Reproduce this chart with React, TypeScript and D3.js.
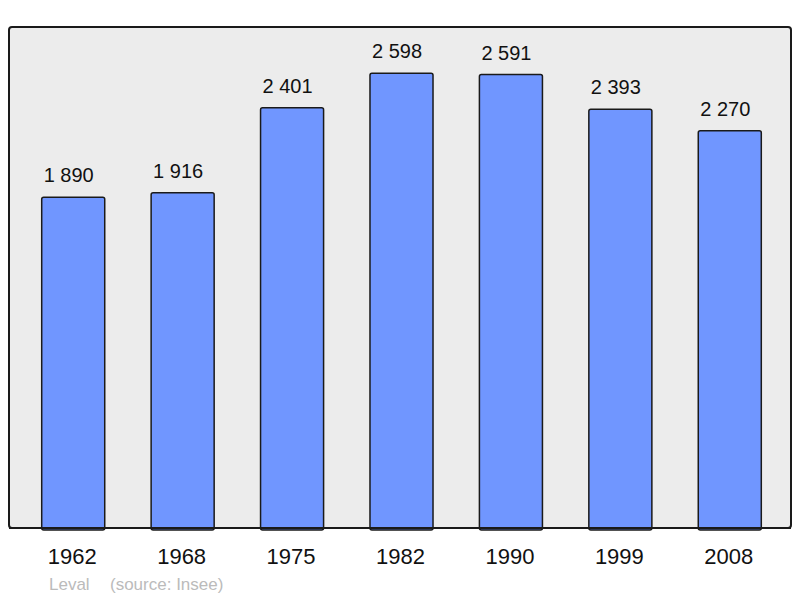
import React, { useEffect, useRef } from "react";
import * as d3 from "d3";

const years = ["1962", "1968", "1975", "1982", "1990", "1999", "2008"];
const population = [1890, 1916, 2401, 2598, 2591, 2393, 2270];
const commune = "Leval";
const source = "(source: Insee)";

const W = 800;
const H = 598;

const fmt = (v: number) => d3.format(",")(v).replace(",", " ");

const PopChart: React.FC = () => {
  const svgRef = useRef<SVGSVGElement>(null);

  useEffect(() => {
    if (!svgRef.current) return;
    const svg = d3.select(svgRef.current);
    svg.selectAll("*").remove();

    const frame = { left: 9, right: 791, top: 27, bottom: 528 };

    // frame background
    svg
      .append("rect")
      .attr("x", frame.left)
      .attr("y", frame.top)
      .attr("width", frame.right - frame.left)
      .attr("height", frame.bottom - frame.top)
      .attr("rx", 3)
      .attr("fill", "#ececec")
      .attr("stroke", "#1a1a1a")
      .attr("stroke-width", 2);

    const x = d3
      .scaleBand()
      .domain(years)
      .range([41.7, 761.3])
      .paddingInner(0.424)
      .paddingOuter(0);

    const y = d3.scaleLinear().domain([0, 2863]).range([frame.bottom, frame.top]);

    const data = years.map((yr, i) => ({ yr, v: population[i] }));

    // bars
    svg
      .selectAll("rect.bar")
      .data(data)
      .enter()
      .append("rect")
      .attr("class", "bar")
      .attr("x", d => x(d.yr)!)
      .attr("y", d => y(d.v))
      .attr("width", x.bandwidth())
      .attr("height", d => frame.bottom - y(d.v) + 2)
      .attr("rx", 2)
      .attr("fill", "#7096ff")
      .attr("stroke", "#1a1a1a")
      .attr("stroke-width", 1.5);

    // redraw bottom line over bars
    svg
      .append("line")
      .attr("x1", frame.left)
      .attr("x2", frame.right)
      .attr("y1", frame.bottom)
      .attr("y2", frame.bottom)
      .attr("stroke", "#1a1a1a")
      .attr("stroke-width", 2);

    // value labels
    svg
      .selectAll("text.val")
      .data(data)
      .enter()
      .append("text")
      .attr("class", "val")
      .attr("x", d => x(d.yr)! + x.bandwidth() / 2 - 4.5)
      .attr("y", d => y(d.v) - 15)
      .attr("text-anchor", "middle")
      .style("font-family", "'Liberation Sans', Arial, sans-serif")
      .style("font-size", "20px")
      .attr("fill", "#111")
      .text(d => fmt(d.v));

    // year labels
    svg
      .selectAll("text.year")
      .data(data)
      .enter()
      .append("text")
      .attr("class", "year")
      .attr("x", d => x(d.yr)! + x.bandwidth() / 2 - 1)
      .attr("y", 564)
      .attr("text-anchor", "middle")
      .style("font-family", "'Liberation Sans', Arial, sans-serif")
      .style("font-size", "22px")
      .attr("fill", "#111")
      .text(d => d.yr);

    // footer
    const foot = svg
      .append("g")
      .style("font-family", "'Liberation Sans', Arial, sans-serif")
      .style("font-size", "17px")
      .attr("fill", "#bbbbbb");
    foot.append("text").attr("x", 49).attr("y", 590).text(commune);
    foot.append("text").attr("x", 110).attr("y", 590).text(source);
  }, []);

  return (
    <svg
      ref={svgRef}
      width={W}
      height={H}
      style={{ position: "absolute", left: 0, top: 0, background: "#fff" }}
    />
  );
};

export default function App() {
  return <PopChart />;
}
